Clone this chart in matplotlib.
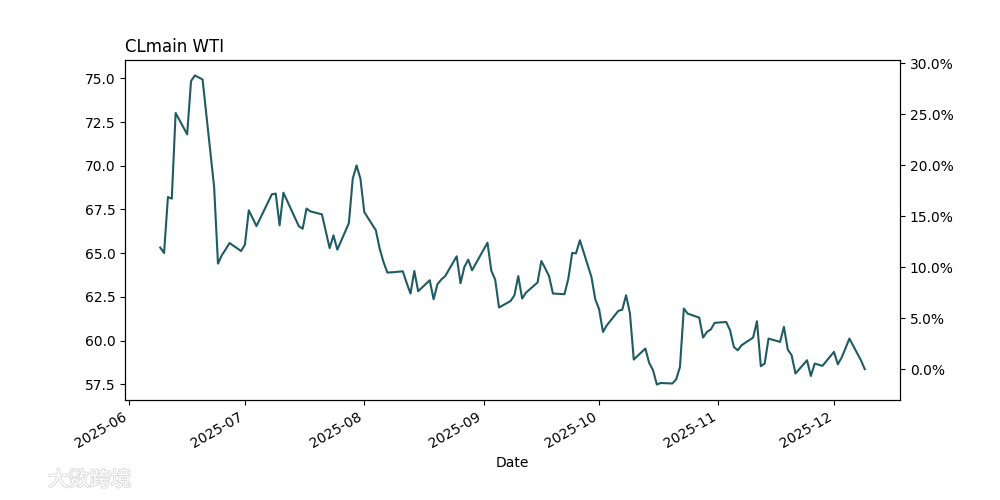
import pandas as pd
import matplotlib
matplotlib.use("Agg")
import matplotlib.pyplot as plt
import matplotlib.patheffects as pe
from matplotlib.ticker import PercentFormatter

# daily closes
dates = [
    "2025-06-09", "2025-06-10", "2025-06-11", "2025-06-12", "2025-06-13",
    "2025-06-16", "2025-06-17", "2025-06-18", "2025-06-20", "2025-06-23",
    "2025-06-24", "2025-06-25", "2025-06-26", "2025-06-27", "2025-06-30",
    "2025-07-01", "2025-07-02", "2025-07-04", "2025-07-08", "2025-07-09",
    "2025-07-10", "2025-07-11", "2025-07-15", "2025-07-16", "2025-07-17",
    "2025-07-18", "2025-07-21", "2025-07-23", "2025-07-24", "2025-07-25",
    "2025-07-28", "2025-07-29", "2025-07-30", "2025-07-31", "2025-08-01",
    "2025-08-04", "2025-08-05", "2025-08-06", "2025-08-07", "2025-08-08",
    "2025-08-11", "2025-08-12", "2025-08-13", "2025-08-14", "2025-08-15",
    "2025-08-18", "2025-08-19", "2025-08-20", "2025-08-21", "2025-08-22",
    "2025-08-25", "2025-08-26", "2025-08-27", "2025-08-28", "2025-08-29",
    "2025-09-02", "2025-09-03", "2025-09-04", "2025-09-05", "2025-09-08",
    "2025-09-09", "2025-09-10", "2025-09-11", "2025-09-12", "2025-09-15",
    "2025-09-16", "2025-09-17", "2025-09-18", "2025-09-19", "2025-09-22",
    "2025-09-23", "2025-09-24", "2025-09-25", "2025-09-26", "2025-09-29",
    "2025-09-30", "2025-10-01", "2025-10-02", "2025-10-03", "2025-10-06",
    "2025-10-07", "2025-10-08", "2025-10-09", "2025-10-10", "2025-10-13",
    "2025-10-14", "2025-10-15", "2025-10-16", "2025-10-17", "2025-10-20",
    "2025-10-21", "2025-10-22", "2025-10-23", "2025-10-24", "2025-10-27",
    "2025-10-28", "2025-10-29", "2025-10-30", "2025-10-31", "2025-11-03",
    "2025-11-04", "2025-11-05", "2025-11-06", "2025-11-07", "2025-11-10",
    "2025-11-11", "2025-11-12", "2025-11-13", "2025-11-14", "2025-11-17",
    "2025-11-18", "2025-11-19", "2025-11-20", "2025-11-21", "2025-11-24",
    "2025-11-25", "2025-11-26", "2025-11-28", "2025-12-01", "2025-12-02",
    "2025-12-03", "2025-12-04", "2025-12-05", "2025-12-08", "2025-12-09",
]
close = [
    65.32, 65.01, 68.21, 68.12, 73.02,
    71.80, 74.85, 75.17, 74.94, 68.78,
    64.40, 64.88, 65.22, 65.58, 65.12,
    65.49, 67.45, 66.55, 68.37, 68.41,
    66.59, 68.46, 66.54, 66.40, 67.55,
    67.39, 67.22, 65.29, 66.02, 65.20,
    66.72, 69.26, 70.02, 69.26, 67.35,
    66.31, 65.26, 64.49, 63.89, 63.90,
    63.96, 63.30, 62.69, 63.98, 62.82,
    63.45, 62.36, 63.22, 63.49, 63.68,
    64.82, 63.28, 64.21, 64.63, 64.02,
    65.60, 63.99, 63.49, 61.89, 62.26,
    62.59, 63.69, 62.40, 62.74, 63.32,
    64.55, 64.13, 63.68, 62.69, 62.65,
    63.54, 65.01, 64.99, 65.74, 63.64,
    62.36, 61.79, 60.49, 60.87, 61.70,
    61.76, 62.59, 61.56, 58.91, 59.54,
    58.72, 58.30, 57.48, 57.57, 57.54,
    57.77, 58.49, 61.83, 61.54, 61.31,
    60.17, 60.49, 60.63, 61.01, 61.06,
    60.59, 59.63, 59.44, 59.73, 60.17,
    61.10, 58.53, 58.68, 60.11, 59.92,
    60.78, 59.48, 59.16, 58.11, 58.87,
    57.97, 58.68, 58.55, 59.35, 58.64,
    59.03, 59.56, 60.11, 58.87, 58.36,
]

df = pd.DataFrame({"Date": pd.to_datetime(dates), "close": close}).set_index("Date")

fig, ax = plt.subplots(figsize=(10, 5), dpi=100)
ax.plot(df.index, df["close"], color="#1f5b62", linewidth=1.5)
ax.set_title("CLmain WTI", loc="left")
ax.set_xlabel("Date")

# right axis: change relative to the latest close
base = df["close"].iloc[-1]
ax2 = ax.twinx()
lo, hi = ax.get_ylim()
ax2.set_ylim(lo / base - 1, hi / base - 1)
ax2.yaxis.set_major_formatter(PercentFormatter(1.0, decimals=1))

fig.autofmt_xdate()

# faint watermark in the corner
fig.text(0.048, 0.028, "大数跨境", fontsize=15, color="white",
         family=["Noto Sans CJK SC", "DejaVu Sans"],
         path_effects=[pe.withStroke(linewidth=1.2, foreground="#d8d8d8")])

fig.savefig("out.png")
